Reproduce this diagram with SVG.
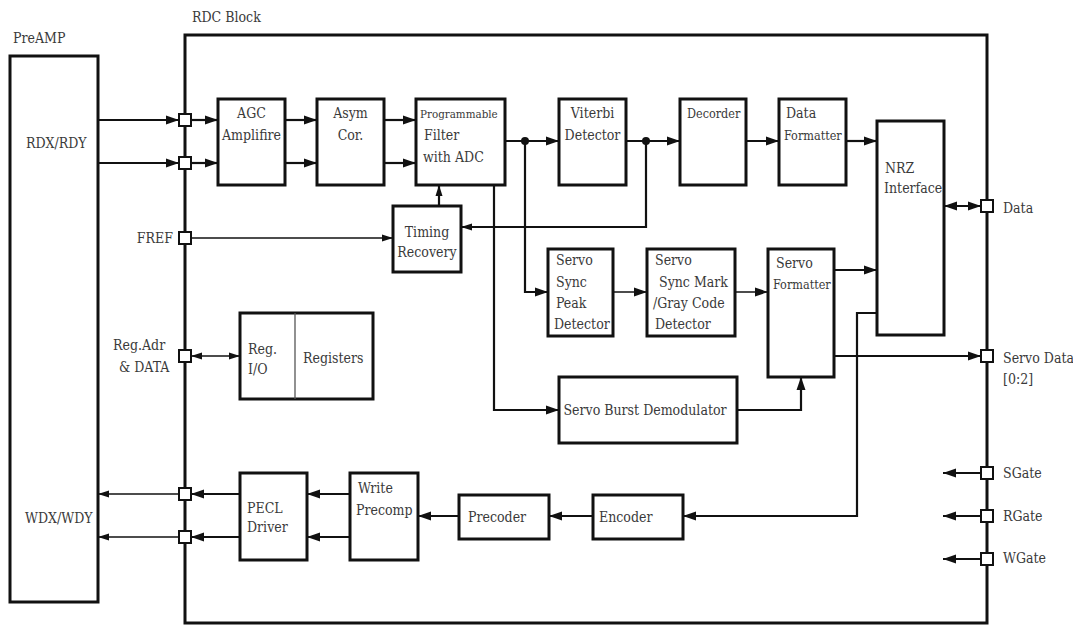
<svg xmlns="http://www.w3.org/2000/svg" width="1073" height="631" viewBox="0 0 1073 631">
<defs>
<style>
text{font-family:'DejaVu Serif Condensed','DejaVu Serif','Liberation Serif',serif;font-stretch:condensed;font-size:14px;fill:#3a3a3a}
.sm{font-size:12.5px}
.xs{font-size:11.5px}
.box{fill:#fff;stroke:#111;stroke-width:3}
.port{fill:#fff;stroke:#111;stroke-width:2}
.w{fill:none;stroke:#111;stroke-width:2.2}
.t{fill:none;stroke:#111;stroke-width:1.3}
</style>
<marker id="a" markerUnits="userSpaceOnUse" markerWidth="14" markerHeight="10" refX="13" refY="4.5" orient="auto-start-reverse" viewBox="0 0 14 9">
<path d="M0,0 L13,4.5 L0,9 Z" fill="#111"/>
</marker>
<marker id="as" markerUnits="userSpaceOnUse" markerWidth="12" markerHeight="8" refX="11" refY="3.5" orient="auto-start-reverse" viewBox="0 0 12 7">
<path d="M0,0 L11,3.5 L0,7 Z" fill="#111"/>
</marker>
</defs>
<rect width="1073" height="631" fill="#fff"/>

<g id="preamp">
<rect class="box" x="10" y="56" width="88" height="546"/>
<text x="13" y="43">PreAMP</text>
<text x="26" y="148">RDX/RDY</text>
<text x="25" y="523">WDX/WDY</text>
</g>

<g id="rdc-block">
<rect x="185" y="35" width="802" height="588" fill="none" stroke="#111" stroke-width="3"/>
<text x="192" y="22">RDC Block</text>
</g>

<g id="connectors">
<path class="w" d="M98,120 H179" marker-end="url(#a)"/>
<path class="w" d="M98,163 H179" marker-end="url(#a)"/>
<path class="w" d="M191,120 H218" marker-end="url(#a)"/>
<path class="w" d="M191,163 H218" marker-end="url(#a)"/>
<path class="w" d="M285,120 H317" marker-end="url(#a)"/>
<path class="w" d="M285,163 H317" marker-end="url(#a)"/>
<path class="w" d="M384,120 H416" marker-end="url(#a)"/>
<path class="w" d="M384,163 H416" marker-end="url(#a)"/>
<path class="w" d="M505,141 H559" marker-end="url(#a)"/>
<path class="w" d="M626,141 H680" marker-end="url(#a)"/>
<path class="w" d="M746,141 H779" marker-end="url(#a)"/>
<path class="w" d="M846,141 H877" marker-end="url(#a)"/>
<path class="w" d="M944,206 H981" marker-start="url(#a)" marker-end="url(#a)"/>
<path class="t" d="M191,238 H393" marker-end="url(#as)"/>
<path class="w" d="M439,206 V185" marker-end="url(#as)"/>
<path class="w" d="M646,141 V227 H461" marker-end="url(#as)"/>
<path class="w" d="M525,141 V292 H548" marker-end="url(#a)"/>
<path class="w" d="M494,185 V410 H559" marker-end="url(#a)"/>
<path class="t" d="M613,292 H647" marker-end="url(#a)"/>
<path class="t" d="M735,292 H768" marker-end="url(#a)"/>
<path class="w" d="M834,270 H877" marker-end="url(#a)"/>
<path class="w" d="M737,410 H801 V377" marker-end="url(#a)"/>
<path class="w" d="M834,356 H981" marker-end="url(#a)"/>
<path class="w" d="M877,313 H857 V516 H683" marker-end="url(#a)"/>
<path class="w" d="M593,516 H549" marker-end="url(#a)"/>
<path class="w" d="M459,516 H418" marker-end="url(#a)"/>
<path class="w" d="M350,494 H307" marker-end="url(#a)"/>
<path class="w" d="M350,537 H307" marker-end="url(#a)"/>
<path class="w" d="M240,494 H191" marker-end="url(#a)"/>
<path class="w" d="M240,537 H191" marker-end="url(#a)"/>
<path class="t" d="M179,494 H98" marker-end="url(#as)"/>
<path class="t" d="M179,537 H98" marker-end="url(#as)"/>
<path class="t" d="M191,356 H240" marker-start="url(#as)" marker-end="url(#as)"/>
<path class="w" d="M981,473 H943" marker-end="url(#a)"/>
<path class="w" d="M981,516 H943" marker-end="url(#a)"/>
<path class="w" d="M981,559 H943" marker-end="url(#a)"/>
<circle cx="525" cy="141" r="4" fill="#111"/>
<circle cx="646" cy="141" r="4" fill="#111"/>
</g>

<g id="ports">
<rect class="port" x="179" y="114" width="12" height="12"/>
<rect class="port" x="179" y="157" width="12" height="12"/>
<rect class="port" x="179" y="232" width="12" height="12"/>
<rect class="port" x="179" y="350" width="12" height="12"/>
<rect class="port" x="179" y="488" width="12" height="12"/>
<rect class="port" x="179" y="531" width="12" height="12"/>
<rect class="port" x="981" y="200" width="12" height="12"/>
<rect class="port" x="981" y="350" width="12" height="12"/>
<rect class="port" x="981" y="467" width="12" height="12"/>
<rect class="port" x="981" y="510" width="12" height="12"/>
<rect class="port" x="981" y="553" width="12" height="12"/>
<text x="173" y="243" text-anchor="end">FREF</text>
<text x="113" y="350">Reg.Adr</text>
<text x="119" y="372">&amp; DATA</text>
<text x="1003" y="213">Data</text>
<text x="1003" y="363">Servo Data</text>
<text x="1003" y="384">[0:2]</text>
<text x="1003" y="478">SGate</text>
<text x="1003" y="521">RGate</text>
<text x="1003" y="563">WGate</text>
</g>

<g id="agc">
<rect class="box" x="218" y="99" width="67" height="86"/>
<text x="251.5" y="118" text-anchor="middle">AGC</text>
<text x="251.5" y="140" text-anchor="middle">Amplifire</text>
</g>
<g id="asym">
<rect class="box" x="317" y="99" width="67" height="86"/>
<text x="350.5" y="118" text-anchor="middle">Asym</text>
<text x="350.5" y="140" text-anchor="middle">Cor.</text>
</g>
<g id="filter">
<rect class="box" x="416" y="99" width="89" height="86"/>
<text x="420" y="118" class="xs">Programmable</text>
<text x="424" y="140">Filter</text>
<text x="423" y="162">with ADC</text>
</g>
<g id="viterbi">
<rect class="box" x="559" y="99" width="67" height="86"/>
<text x="592.5" y="118" text-anchor="middle">Viterbi</text>
<text x="592.5" y="140" text-anchor="middle">Detector</text>
</g>
<g id="decorder">
<rect class="box" x="680" y="99" width="66" height="86"/>
<text x="687" y="118" class="sm">Decorder</text>
</g>
<g id="data-formatter">
<rect class="box" x="779" y="99" width="67" height="86"/>
<text x="786" y="118">Data</text>
<text x="784" y="140" class="sm">Formatter</text>
</g>
<g id="nrz">
<rect class="box" x="877" y="121" width="67" height="214"/>
<text x="885" y="173">NRZ</text>
<text x="884" y="193">Interface</text>
</g>
<g id="timing">
<rect class="box" x="393" y="206" width="68" height="66"/>
<text x="427" y="237" text-anchor="middle">Timing</text>
<text x="427" y="257" text-anchor="middle">Recovery</text>
</g>
<g id="sync-peak">
<rect class="box" x="548" y="249" width="65" height="87"/>
<text x="556" y="265">Servo</text>
<text x="556" y="287">Sync</text>
<text x="556" y="308">Peak</text>
<text x="554" y="329">Detector</text>
</g>
<g id="sync-mark">
<rect class="box" x="647" y="249" width="88" height="87"/>
<text x="655" y="265">Servo</text>
<text x="659" y="287">Sync Mark</text>
<text x="653" y="308">/Gray Code</text>
<text x="655" y="329">Detector</text>
</g>
<g id="servo-formatter">
<rect class="box" x="768" y="249" width="66" height="128"/>
<text x="776" y="268">Servo</text>
<text x="773" y="289" class="sm">Formatter</text>
</g>
<g id="servo-burst">
<rect class="box" x="559" y="377" width="178" height="66"/>
<text x="645" y="415" text-anchor="middle">Servo Burst Demodulator</text>
</g>
<g id="registers">
<rect class="box" x="240" y="313" width="133" height="86"/>
<line x1="295" y1="313" x2="295" y2="399" stroke="#555" stroke-width="1.3"/>
<text x="248" y="354">Reg.</text>
<text x="248" y="374">I/O</text>
<text x="303" y="363">Registers</text>
</g>
<g id="pecl">
<rect class="box" x="240" y="473" width="67" height="87"/>
<text x="247" y="513">PECL</text>
<text x="247" y="532">Driver</text>
</g>
<g id="write-precomp">
<rect class="box" x="350" y="473" width="68" height="87"/>
<text x="358" y="493">Write</text>
<text x="356" y="515">Precomp</text>
</g>
<g id="precoder">
<rect class="box" x="459" y="495" width="90" height="44"/>
<text x="468" y="522">Precoder</text>
</g>
<g id="encoder">
<rect class="box" x="593" y="495" width="90" height="44"/>
<text x="599" y="522">Encoder</text>
</g>
</svg>
